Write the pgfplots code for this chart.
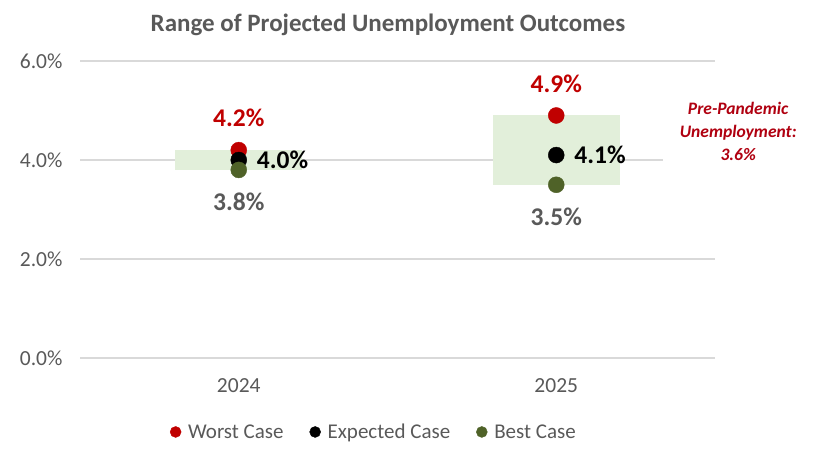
\documentclass[border=0pt]{standalone}
\usepackage{pgfplots}
\pgfplotsset{compat=1.18}
\usepackage{fontspec}
\setmainfont{Carlito}
\definecolor{worst}{HTML}{C00000}
\definecolor{annoc}{HTML}{B00010}
\definecolor{best}{HTML}{4F6228}
\definecolor{boxg}{HTML}{E2EFDA}
\definecolor{txtg}{HTML}{595959}
\definecolor{gridc}{HTML}{D9D9D9}
\begin{document}
\begin{tikzpicture}
\path[use as bounding box] (-80pt,-103pt) rectangle (733pt,358pt);
\begin{axis}[at={(0,0)}, anchor=south west, scale only axis,
  width=635pt, height=297pt,
  xmin=-0.5, xmax=1.5, ymin=0, ymax=6,
  axis line style={draw=none}, major tick length=0pt,
  ymajorgrids, grid style={gridc, line width=1.2pt},
  xtick={0,1}, xticklabels={2024,2025}, ytick={0,2,4,6},
  yticklabel={\pgfmathprintnumber[fixed,fixed zerofill,precision=1]{\tick}\%},
  /pgf/number format/assume math mode=true,
  tick label style={font=\fontsize{21.5}{25}\selectfont, text=txtg},
  xticklabel style={yshift=-17pt},
  yticklabel style={xshift=-14pt},
  clip=false,
  legend style={at={(0.463,-0.249)}, anchor=center, draw=none, fill=none,
    font=\fontsize{21}{25}\selectfont, text=txtg, legend columns=3,
    /tikz/every odd column/.append style={column sep=5pt},
    /tikz/every even column/.append style={column sep=24pt}},
  legend image code/.code={\draw[#1, mark size=5.5pt] plot coordinates {(0,0)};},
  nodes near coords={\pgfmathprintnumber[fixed,fixed zerofill,precision=1]{\pgfplotspointmeta}\%},
  point meta=y,
]
\addplot[fill=boxg, draw=none, forget plot, nodes near coords={}] coordinates {(-0.2,3.8) (0.2,3.8) (0.2,4.2) (-0.2,4.2)} --cycle;
\addplot[fill=boxg, draw=none, forget plot, nodes near coords={}] coordinates {(0.8,3.5) (1.2,3.5) (1.2,4.9) (0.8,4.9)} --cycle;
\addplot[only marks, mark=*, mark size=8pt, color=worst,
  nodes near coords style={anchor=center, inner sep=0pt, yshift=32pt, font=\bfseries\fontsize{25.5}{30}\selectfont, text=worst}]
  coordinates {(0,4.2) (1,4.9)};
\addlegendentry{Worst Case}
\addplot[only marks, mark=*, mark size=8pt, color=black,
  nodes near coords style={anchor=west, inner sep=0pt, xshift=18pt, font=\bfseries\fontsize{25.5}{30}\selectfont, text=black}]
  coordinates {(0,4.0) (1,4.1)};
\addlegendentry{Expected Case}
\addplot[only marks, mark=*, mark size=8pt, color=best,
  nodes near coords style={anchor=center, inner sep=0pt, yshift=-32pt, font=\bfseries\fontsize{25.5}{30}\selectfont, text=txtg}]
  coordinates {(0,3.8) (1,3.5)};
\addlegendentry{Best Case}
\node[font=\bfseries\fontsize{25}{30}\selectfont, text=txtg] at (rel axis cs:0.485,1.121) {Range of Projected Unemployment Outcomes};
\node[fill=white, align=center, font=\bfseries\itshape\fontsize{17.5}{23}\selectfont, text=annoc, minimum width=150pt, inner sep=4pt] at (axis cs:1.573,4.57) {Pre-Pandemic\\Unemployment:\\3.6\%};
\end{axis}
\end{tikzpicture}
\end{document}
